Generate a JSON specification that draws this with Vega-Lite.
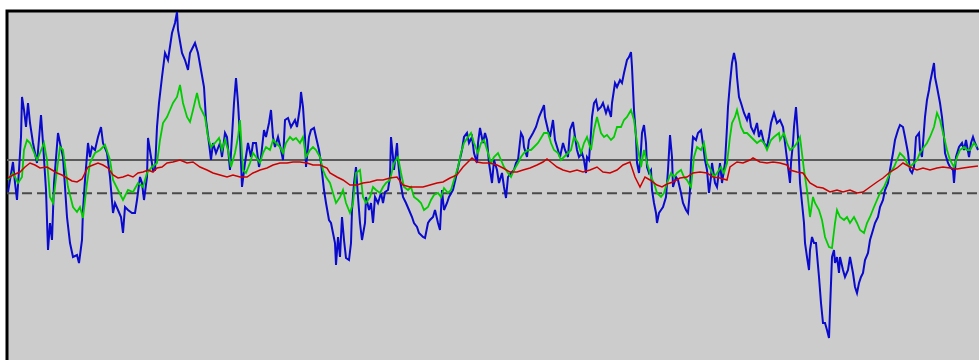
{
  "$schema": "https://vega.github.io/schema/vega-lite/v6.json",
  "width": 985,
  "height": 360,
  "autosize": {"type": "none"},
  "padding": {"left": 7, "top": 11, "right": 0, "bottom": 0},
  "background": "white",
  "config": {"view": {"fill": "#CCCCCC", "stroke": "black", "strokeWidth": 3}},
  "datasets": {
    "refs": [{"level": 0, "kind": "solid"}, {"level": -3.33, "kind": "dashed"}],
    "blue": [
      [1,-3.2],[6,-0.2],[8,-2.3],[10,-4.0],[12,-1.0],[14,2.3],[15,6.3],[17,5.0],[19,3.3],[21,5.7],[23,3.7],[26,1.7],[30,-0.3],[34,4.5],[36,1.7],[39,-3.0],[41,-9.0],[43,-6.3],[45,-8.0],[47,-2.3],[51,2.7],[53,1.7],[56,0.3],[60,-5.7],[63,-8.3],[66,-9.7],[70,-9.5],[72,-10.3],[75,-8.0],[76,-5.0],[78,-2.0],[81,1.7],[83,0.3],[85,1.3],[88,1.0],[91,2.3],[94,3.3],[96,1.7],[100,0.7],[103,-1.7],[106,-5.3],[108,-4.3],[111,-5.0],[114,-5.7],[116,-7.3],[118,-4.7],[121,-5.0],[125,-5.3],[128,-5.3],[130,-4.0],[133,-1.7],[135,-2.3],[137,-4.0],[140,-1.7],[141,2.2],[144,0.3],[146,-1.0],[148,-1.0],[150,3.3],[152,5.7],[155,8.3],[158,10.7],[161,10.0],[165,12.7],[168,13.7],[170,14.8],[171,13.0],[175,10.7],[178,10.0],[181,9.0],[183,10.7],[188,11.7],[191,10.7],[194,9.0],[197,7.3],[199,4.0],[202,1.7],[204,0.0],[206,1.7],[209,0.7],[213,1.7],[215,0.3],[218,2.7],[220,2.3],[223,-1.0],[224,0.7],[227,5.7],[229,8.2],[231,5.7],[233,2.3],[235,-2.7],[238,-0.3],[241,1.7],[244,0.3],[246,1.7],[249,1.7],[252,-0.7],[254,0.3],[257,3.0],[259,2.3],[262,3.7],[264,5.0],[266,2.3],[268,1.3],[271,2.3],[274,1.0],[276,0.0],[278,4.0],[281,4.2],[284,3.3],[288,4.0],[290,3.3],[293,5.3],[294,6.8],[296,5.3],[298,2.3],[299,-0.7],[302,2.3],[304,3.0],[307,3.2],[309,2.3],[312,1.0],[314,-0.3],[317,-3.0],[319,-4.3],[322,-6.0],[324,-6.3],[326,-7.3],[328,-8.3],[329,-10.5],[331,-7.7],[333,-9.7],[335,-5.7],[337,-8.0],[339,-9.8],[342,-10.0],[344,-8.3],[345,-5.0],[347,-2.3],[349,-0.7],[351,-3.7],[353,-6.3],[355,-8.0],[358,-6.3],[359,-3.7],[362,-5.0],[364,-4.3],[366,-6.3],[368,-3.7],[371,-4.3],[374,-3.3],[376,-4.3],[378,-3.2],[381,-3.0],[383,-1.7],[384,2.3],[386,0.3],[387,-1.0],[390,1.7],[391,0.0],[393,-2.0],[396,-3.7],[399,-4.3],[402,-5.0],[405,-5.7],[407,-6.3],[410,-6.7],[412,-7.3],[416,-7.7],[418,-7.8],[421,-6.3],[423,-6.0],[426,-5.7],[428,-5.0],[431,-6.3],[433,-7.0],[435,-3.0],[437,-5.0],[440,-4.3],[442,-3.7],[446,-3.0],[449,-1.7],[452,-0.3],[455,1.0],[457,2.3],[460,2.7],[462,1.7],[465,2.3],[467,0.7],[470,-0.3],[471,1.7],[473,3.2],[476,1.7],[478,2.7],[480,2.0],[482,-0.3],[485,-2.3],[487,0.0],[490,-1.0],[492,-2.3],[495,-1.3],[497,-2.7],[499,-3.8],[501,-1.7],[504,-1.3],[507,-1.0],[509,-0.3],[511,0.0],[514,2.7],[516,2.3],[517,1.3],[520,0.3],[522,2.0],[526,2.7],[529,3.3],[532,4.3],[535,5.0],[537,5.5],[538,4.3],[541,3.0],[543,2.3],[546,4.0],[548,2.0],[551,1.0],[553,0.3],[556,1.7],[558,1.0],[561,0.3],[563,3.0],[566,3.8],[568,2.3],[570,1.0],[572,0.3],[575,0.7],[577,0.0],[579,-1.3],[580,0.3],[582,0.0],[584,2.7],[585,4.3],[587,5.7],[589,6.0],[591,5.0],[594,5.3],[596,5.7],[599,4.7],[601,5.3],[604,4.3],[605,5.7],[608,7.7],[610,7.3],[613,8.0],[615,7.7],[617,8.7],[620,10.0],[622,10.3],[624,10.8],[625,9.3],[627,5.0],[629,2.3],[630,-0.3],[632,-1.3],[634,1.0],[635,2.7],[637,3.5],[639,1.7],[640,-0.7],[642,-1.3],[644,-1.0],[645,-3.0],[647,-4.3],[649,-5.3],[650,-6.3],[652,-5.3],[654,-5.0],[656,-4.7],[659,-3.7],[661,-1.0],[663,2.5],[665,0.3],[666,-2.7],[669,-1.7],[671,-2.0],[674,-3.3],[676,-4.3],[679,-5.0],[681,-5.3],[683,-3.0],[684,-0.3],[686,2.3],[689,2.0],[691,2.7],[694,3.0],[695,2.3],[698,0.0],[700,-1.0],[702,-3.3],[704,-1.7],[705,-0.3],[708,-2.3],[710,-2.7],[713,-0.3],[715,-2.3],[718,-0.3],[720,3.3],[721,5.3],[723,7.7],[725,9.7],[727,10.7],[729,9.7],[730,8.3],[732,6.3],[734,5.7],[737,4.7],[740,4.0],[742,4.7],[744,3.3],[747,2.7],[750,3.7],[752,2.3],[754,3.0],[757,1.7],[760,1.3],[762,2.3],[764,3.7],[767,4.7],[770,3.7],[773,4.0],[776,3.3],[778,1.7],[781,-0.7],[783,-2.3],[784,-0.3],[786,1.7],[787,3.3],[789,5.3],[791,2.3],[792,0.0],[793,-2.3],[795,-4.3],[797,-6.3],[798,-8.3],[800,-9.7],[802,-11.0],[803,-9.0],[805,-7.7],[807,-8.3],[809,-8.3],[812,-11.7],[814,-14.3],[816,-16.3],[818,-16.3],[820,-17.0],[822,-17.8],[823,-15.0],[825,-9.7],[827,-9.0],[828,-10.3],[830,-9.7],[832,-11.3],[833,-9.7],[836,-11.0],[838,-11.7],[841,-11.0],[843,-9.7],[846,-11.3],[848,-12.7],[850,-13.3],[852,-12.3],[854,-11.7],[856,-11.3],[858,-10.0],[861,-9.3],[863,-8.0],[866,-7.0],[868,-6.3],[871,-5.7],[873,-4.7],[876,-4.0],[878,-3.0],[881,-2.3],[883,-1.0],[886,0.7],[888,2.0],[891,3.0],[893,3.5],[896,3.3],[898,2.3],[901,0.7],[903,-1.0],[905,-1.3],[907,-0.7],[909,2.3],[912,2.7],[913,1.0],[915,0.3],[917,3.0],[918,4.3],[920,6.0],[922,7.0],[923,7.7],[925,8.7],[927,9.7],[928,8.3],[930,7.3],[933,5.7],[935,4.3],[937,2.3],[938,0.7],[941,-0.3],[943,-0.7],[946,-1.0],[947,-2.3],[949,0.3],[952,1.3],[955,1.7],[957,1.0],[959,2.0],[962,0.3],[964,1.7],[966,2.3],[968,1.7],[971,1.0]
    ],
    "green": [
      [1,-2.0],[6,-1.3],[11,-2.3],[15,-1.7],[17,1.0],[20,2.0],[23,1.7],[26,1.0],[30,0.0],[33,0.7],[37,1.7],[40,0.0],[43,-3.7],[46,-4.3],[50,-1.0],[53,1.3],[56,1.0],[61,-2.7],[66,-4.7],[70,-5.2],[73,-4.7],[76,-5.8],[80,-2.3],[83,-0.3],[88,0.7],[93,1.0],[98,1.5],[103,0.0],[106,-2.0],[111,-3.0],[116,-4.0],[121,-3.0],[126,-3.2],[131,-2.3],[136,-2.7],[140,-1.3],[145,-0.7],[150,-0.3],[153,2.0],[156,3.7],[160,4.3],[163,5.0],[166,5.7],[170,6.3],[173,7.5],[176,5.7],[180,4.3],[183,3.8],[186,5.0],[190,6.7],[193,5.3],[198,4.3],[201,2.3],[204,1.3],[208,1.7],[212,2.2],[215,1.0],[218,2.0],[221,1.0],[224,-0.7],[228,0.7],[231,2.3],[233,4.0],[236,-1.0],[239,-1.3],[243,-0.3],[246,0.7],[249,0.3],[253,-0.3],[256,0.7],[259,1.3],[263,1.0],[266,2.0],[269,1.7],[273,1.3],[276,0.7],[279,1.7],[283,2.3],[286,2.0],[289,2.2],[293,1.7],[296,2.3],[299,0.3],[303,1.0],[306,1.3],[309,1.0],[313,0.3],[316,-1.0],[319,-1.7],[323,-2.3],[326,-3.3],[329,-4.3],[333,-3.7],[336,-3.0],[339,-4.3],[343,-5.3],[346,-4.3],[349,-1.3],[353,-1.0],[356,-3.7],[359,-4.3],[363,-3.7],[366,-2.7],[369,-3.0],[373,-3.3],[376,-2.7],[379,-2.3],[383,-2.0],[387,-0.3],[391,0.3],[394,-1.3],[397,-2.7],[401,-3.0],[404,-2.7],[407,-3.7],[411,-4.0],[414,-4.3],[417,-5.0],[421,-4.7],[424,-4.0],[427,-3.5],[431,-3.3],[434,-3.7],[437,-2.8],[441,-3.3],[444,-3.0],[447,-2.0],[451,-0.7],[454,0.7],[457,1.7],[461,2.3],[464,2.7],[467,1.7],[471,0.7],[474,1.7],[477,2.0],[481,0.7],[484,-0.3],[487,0.3],[491,0.7],[494,0.0],[497,-0.7],[501,-1.3],[504,-1.7],[507,-1.0],[511,-0.3],[514,0.3],[517,0.7],[521,1.0],[524,1.0],[527,1.3],[531,1.7],[534,2.2],[537,2.7],[541,2.7],[544,1.7],[547,1.0],[551,0.7],[554,0.0],[557,0.3],[561,0.7],[564,1.0],[567,2.3],[571,1.7],[574,0.7],[577,1.7],[580,2.3],[584,1.0],[587,3.0],[590,4.3],[594,2.7],[597,2.3],[600,2.5],[604,2.0],[607,2.3],[610,3.3],[614,3.3],[617,4.0],[620,4.3],[624,5.0],[627,4.0],[630,1.7],[634,-0.7],[637,1.0],[640,-0.3],[644,-1.7],[647,-2.3],[650,-3.3],[654,-3.7],[657,-3.3],[660,-2.3],[664,-1.3],[667,-1.7],[670,-1.3],[674,-1.0],[677,-1.7],[680,-2.0],[684,-2.7],[687,0.3],[690,1.3],[694,1.0],[697,1.7],[700,-0.3],[704,-1.0],[707,-1.7],[710,-1.3],[714,-0.7],[717,-1.3],[720,-0.3],[723,2.3],[725,3.7],[728,4.3],[730,5.0],[734,3.3],[737,2.7],[740,2.7],[744,2.3],[747,2.0],[750,1.7],[754,2.0],[757,1.7],[760,1.0],[764,2.0],[767,2.3],[772,2.7],[773,2.0],[777,2.7],[780,1.7],[783,1.0],[787,1.3],[790,1.7],[793,2.3],[797,-1.0],[800,-3.0],[803,-5.7],[806,-3.7],[808,-4.3],[812,-5.0],[815,-6.0],[818,-7.7],[822,-8.7],[825,-8.8],[828,-6.3],[830,-5.0],[833,-5.7],[837,-6.0],[840,-5.7],[843,-6.3],[847,-5.7],[850,-6.3],[853,-7.0],[857,-7.3],[860,-6.3],[863,-5.7],[867,-4.7],[870,-4.0],[873,-3.3],[877,-2.7],[880,-2.0],[883,-1.3],[887,-0.7],[890,0.0],[893,0.7],[897,0.3],[900,-0.3],[903,-0.7],[907,-0.3],[910,0.0],[913,0.7],[917,1.3],[920,1.7],[923,2.3],[927,3.3],[930,4.7],[933,4.0],[937,2.3],[940,1.0],[943,0.0],[947,-0.7],[950,0.3],[953,1.0],[957,1.3],[960,1.0],[963,1.0],[967,1.7],[970,1.3]
    ],
    "red": [
      [1,-1.8],[6,-1.5],[13,-1.2],[18,-0.7],[23,-0.3],[28,-0.5],[33,-0.8],[40,-0.7],[45,-1.0],[50,-1.3],[55,-1.5],[60,-1.8],[65,-2.1],[70,-2.2],[75,-1.9],[78,-1.3],[81,-0.7],[86,-0.5],[91,-0.3],[96,-0.5],[101,-0.8],[106,-1.5],[111,-1.8],[116,-1.7],[121,-1.5],[126,-1.7],[131,-1.3],[136,-1.2],[141,-1.0],[146,-1.2],[150,-0.8],[155,-0.7],[160,-0.3],[166,-0.2],[173,0.0],[180,-0.3],[186,-0.2],[193,-0.7],[200,-1.0],[206,-1.3],[213,-1.5],[220,-1.7],[226,-1.5],[233,-1.7],[240,-1.7],[246,-1.3],[253,-1.0],[260,-0.8],[266,-0.5],[273,-0.3],[280,-0.3],[286,-0.2],[293,-0.2],[300,-0.3],[306,-0.5],[313,-0.5],[320,-0.8],[323,-1.3],[330,-1.7],[336,-2.0],[343,-2.5],[350,-2.5],[356,-2.3],[363,-2.2],[370,-2.0],[376,-2.0],[383,-1.8],[390,-1.7],[396,-2.5],[403,-2.7],[410,-2.7],[416,-2.7],[423,-2.5],[430,-2.3],[436,-2.2],[443,-1.8],[450,-1.5],[456,-0.7],[461,-0.2],[465,0.2],[470,-0.2],[476,-0.3],[483,-0.3],[490,-0.5],[496,-0.8],[503,-1.2],[510,-1.2],[516,-1.0],[523,-0.8],[530,-0.5],[536,-0.2],[540,0.1],[545,-0.3],[550,-0.7],[556,-1.0],[563,-1.2],[570,-1.0],[576,-1.2],[583,-1.0],[590,-0.7],[596,-1.2],[603,-1.3],[610,-1.0],[616,-0.5],[623,-0.2],[628,-1.7],[633,-2.7],[638,-1.7],[643,-2.0],[650,-2.5],[655,-2.7],[660,-2.4],[666,-2.2],[673,-1.8],[680,-1.7],[686,-1.3],[693,-1.2],[700,-1.3],[706,-1.7],[713,-1.8],[720,-2.0],[723,-0.7],[730,-0.2],[736,-0.3],[743,0.0],[746,0.2],[753,-0.2],[760,-0.3],[766,-0.2],[773,-0.3],[780,-0.5],[783,-1.0],[790,-1.2],[796,-1.3],[803,-2.3],[810,-2.7],[816,-2.8],[823,-3.2],[830,-3.0],[836,-3.2],[843,-3.0],[850,-3.3],[856,-3.2],[863,-2.7],[870,-2.2],[876,-1.8],[883,-1.2],[890,-0.8],[896,-0.3],[903,-0.7],[910,-1.0],[916,-0.8],[923,-1.0],[930,-0.8],[936,-0.7],[943,-0.8],[950,-0.9],[956,-0.8],[963,-0.7],[971,-0.6]
    ]
  },
  "layer": [
    {
      "data": {"name": "refs"},
      "transform": [{"filter": "datum.kind === 'solid'"}],
      "mark": {"type": "rule", "color": "#5A5A5A", "strokeWidth": 2},
      "encoding": {"y": {"field": "level", "type": "quantitative", "axis": null, "scale": {"domain": [-21.1, 14.9], "nice": false, "zero": false}}}
    },
    {
      "data": {"name": "refs"},
      "transform": [{"filter": "datum.kind === 'dashed'"}],
      "mark": {"type": "rule", "color": "#4A4A4A", "strokeWidth": 2, "strokeDash": [10, 5]},
      "encoding": {"y": {"field": "level", "type": "quantitative", "axis": null, "scale": {"domain": [-21.1, 14.9], "nice": false, "zero": false}}}
    },
    {
      "data": {"name": "blue"},
      "transform": [{"calculate": "datum[0]", "as": "t"}, {"calculate": "datum[1]", "as": "v"}],
      "mark": {"type": "line", "color": "#0A0ACC", "strokeWidth": 2, "clip": true},
      "encoding": {
        "x": {"field": "t", "type": "quantitative", "axis": null, "scale": {"domain": [0, 985], "nice": false, "zero": false}},
        "y": {"field": "v", "type": "quantitative", "axis": null, "scale": {"domain": [-21.1, 14.9], "nice": false, "zero": false}}
      }
    },
    {
      "data": {"name": "green"},
      "transform": [{"calculate": "datum[0]", "as": "t"}, {"calculate": "datum[1]", "as": "v"}],
      "mark": {"type": "line", "color": "#00CC00", "strokeWidth": 1.8, "clip": true},
      "encoding": {
        "x": {"field": "t", "type": "quantitative", "axis": null, "scale": {"domain": [0, 985], "nice": false, "zero": false}},
        "y": {"field": "v", "type": "quantitative", "axis": null, "scale": {"domain": [-21.1, 14.9], "nice": false, "zero": false}}
      }
    },
    {
      "data": {"name": "red"},
      "transform": [{"calculate": "datum[0]", "as": "t"}, {"calculate": "datum[1]", "as": "v"}],
      "mark": {"type": "line", "color": "#CC0000", "strokeWidth": 1.5, "clip": true},
      "encoding": {
        "x": {"field": "t", "type": "quantitative", "axis": null, "scale": {"domain": [0, 985], "nice": false, "zero": false}},
        "y": {"field": "v", "type": "quantitative", "axis": null, "scale": {"domain": [-21.1, 14.9], "nice": false, "zero": false}}
      }
    }
  ]
}
